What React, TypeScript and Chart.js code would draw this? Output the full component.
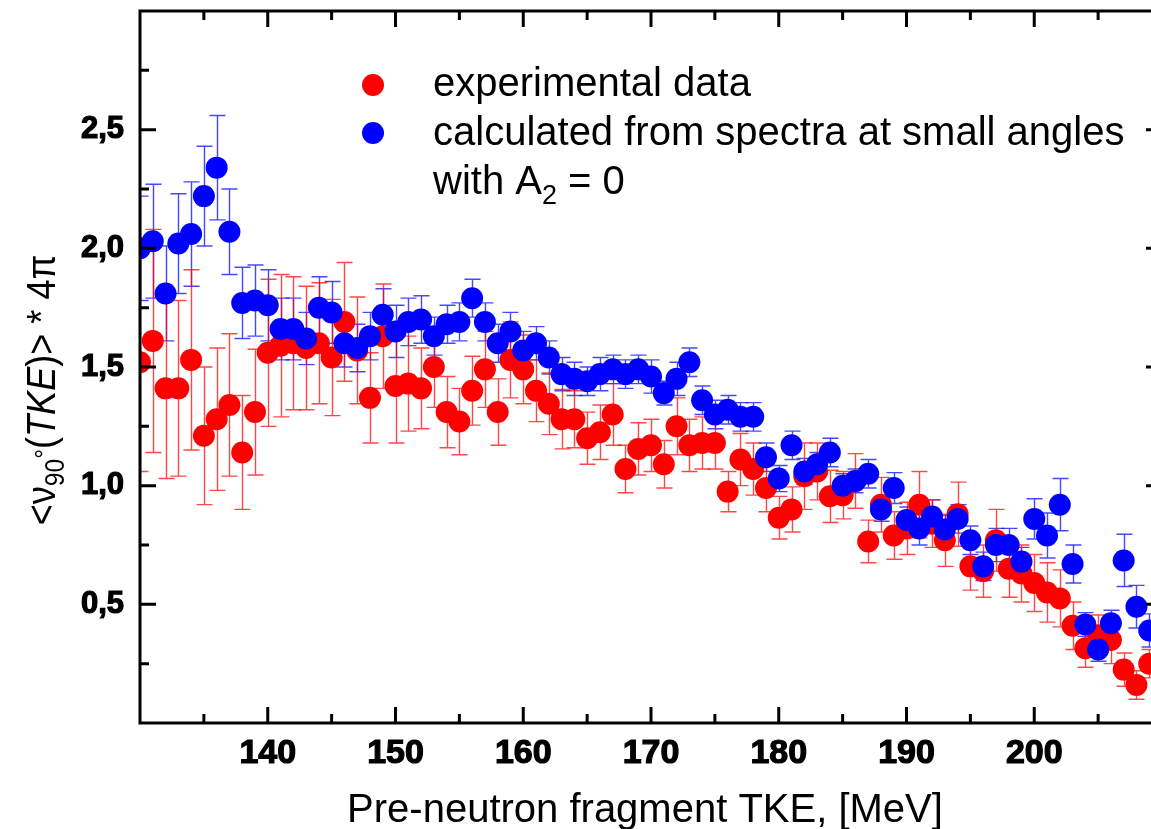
import React, { useEffect, useRef } from "react";
import { Chart, registerables } from "chart.js";

Chart.register(...registerables);

// ---------------- data ----------------
const tke = [
  130, 131, 132, 133, 134, 135, 136, 137, 138, 139,
  140, 141, 142, 143, 144, 145, 146, 147, 148, 149,
  150, 151, 152, 153, 154, 155, 156, 157, 158, 159,
  160, 161, 162, 163, 164, 165, 166, 167, 168, 169,
  170, 171, 172, 173, 174, 175, 176, 177, 178, 179,
  180, 181, 182, 183, 184, 185, 186, 187, 188, 189,
  190, 191, 192, 193, 194, 195, 196, 197, 198, 199,
  200, 201, 202, 203, 204, 205, 206, 207, 208, 209,
];

const experimental = [
  1.52, 1.61, 1.41, 1.41, 1.53, 1.21, 1.28, 1.34, 1.14, 1.31,
  1.56, 1.59, 1.6, 1.58, 1.6, 1.54, 1.69, 1.57, 1.37, 1.63,
  1.42, 1.43, 1.41, 1.5, 1.31, 1.27, 1.4, 1.49, 1.31, 1.53,
  1.49, 1.4, 1.345, 1.28, 1.28, 1.2, 1.225, 1.3, 1.07, 1.155,
  1.17, 1.09, 1.25, 1.17, 1.18, 1.18, 0.975, 1.11, 1.07, 0.99,
  0.865, 0.9, 1.04, 1.06, 0.955, 0.96, 1.02, 0.765, 0.92, 0.79,
  0.82, 0.92, 0.84, 0.77, 0.88, 0.66, 0.64, 0.77, 0.65, 0.63,
  0.59, 0.55, 0.525, 0.41, 0.315, 0.37, 0.35, 0.225, 0.16, 0.25,
];

const experimentalErr = [
  0.46, 0.47, 0.38, 0.37, 0.38, 0.29, 0.3, 0.3, 0.24, 0.265,
  0.31, 0.3, 0.28, 0.26, 0.255, 0.245, 0.25, 0.225, 0.19, 0.22,
  0.24, 0.2, 0.17, 0.17, 0.15, 0.14, 0.145, 0.16, 0.14, 0.16,
  0.145, 0.13, 0.13, 0.125, 0.12, 0.11, 0.115, 0.13, 0.1, 0.11,
  0.11, 0.1, 0.12, 0.11, 0.11, 0.11, 0.085, 0.11, 0.11, 0.1,
  0.09, 0.095, 0.14, 0.12, 0.11, 0.1, 0.115, 0.09, 0.115, 0.1,
  0.11, 0.14, 0.1, 0.11, 0.135, 0.1, 0.11, 0.13, 0.12, 0.12,
  0.12, 0.125, 0.12, 0.1, 0.08, 0.085, 0.1, 0.07, 0.06, 0.06,
];

const calculated = [
  2.0, 2.03, 1.81, 2.02, 2.06, 2.22, 2.34, 2.07, 1.77, 1.78,
  1.76, 1.66, 1.66, 1.62, 1.75, 1.73, 1.6, 1.58, 1.63, 1.72,
  1.65, 1.69, 1.7, 1.63, 1.68, 1.69, 1.79, 1.69, 1.6, 1.65,
  1.57, 1.6, 1.54, 1.47, 1.45, 1.44, 1.47, 1.49, 1.47, 1.49,
  1.46, 1.39, 1.45, 1.52, 1.36, 1.3, 1.32, 1.29, 1.29, 1.12,
  1.03, 1.17, 1.06, 1.09, 1.14, 1.0, 1.02, 1.05, 0.9, 0.99,
  0.855, 0.82, 0.87, 0.815, 0.86, 0.77, 0.66, 0.75, 0.75, 0.68,
  0.86, 0.79, 0.92, 0.67, 0.415, 0.31, 0.42, 0.685, 0.49, 0.39,
];

const calculatedErr = [
  0.22, 0.24, 0.2, 0.21, 0.22, 0.21, 0.22, 0.18, 0.15, 0.15,
  0.15, 0.13, 0.13, 0.11, 0.13, 0.13, 0.1, 0.1, 0.1, 0.11,
  0.11, 0.1, 0.1, 0.08, 0.08, 0.08, 0.08, 0.08, 0.08, 0.08,
  0.08, 0.07, 0.07, 0.07, 0.07, 0.06, 0.07, 0.06, 0.06, 0.06,
  0.07, 0.05, 0.07, 0.06, 0.06, 0.06, 0.06, 0.06, 0.06, 0.06,
  0.055, 0.06, 0.055, 0.05, 0.06, 0.05, 0.05, 0.06, 0.05, 0.065,
  0.055, 0.07, 0.07, 0.06, 0.06, 0.06, 0.06, 0.07, 0.07, 0.06,
  0.085, 0.095, 0.11, 0.08, 0.05, 0.05, 0.055, 0.11, 0.09, 0.07,
];

const xTickLabels = [140, 150, 160, 170, 180, 190, 200];
const xMinorTicks = [135, 145, 155, 165, 175, 185, 195, 205];
const yTickLabels = [0.5, 1.0, 1.5, 2.0, 2.5];
const yMinorTicks = [0.25, 0.75, 1.25, 1.75, 2.25, 2.75];

const legendLabels = [
  "experimental data",
  "calculated from spectra at small angles",
];

const FONT = "'Liberation Sans', Arial, Helvetica, sans-serif";
const RED = "#ff0000";
const BLUE = "#0000ff";

type Run = { text: string; size: number; italic?: boolean; dy?: number };

function measureRuns(ctx: CanvasRenderingContext2D, runs: Run[]) {
  let w = 0;
  for (const r of runs) {
    ctx.font = `${r.italic ? "italic " : ""}${r.size}px ${FONT}`;
    w += ctx.measureText(r.text).width;
  }
  return w;
}

function drawRuns(ctx: CanvasRenderingContext2D, runs: Run[], x0: number, y0: number) {
  let x = x0;
  for (const r of runs) {
    ctx.font = `${r.italic ? "italic " : ""}${r.size}px ${FONT}`;
    ctx.fillText(r.text, x, y0 + (r.dy || 0));
    x += ctx.measureText(r.text).width;
  }
}

const errorBarPlugin = {
  id: "errorBars",
  beforeDatasetsDraw(chart: any) {
    const { ctx, chartArea } = chart;
    const xs = chart.scales.x;
    const ys = chart.scales.y;
    ctx.save();
    ctx.beginPath();
    ctx.rect(chartArea.left, chartArea.top, chartArea.right - chartArea.left, chartArea.bottom - chartArea.top);
    ctx.clip();
    ctx.lineWidth = 1.4;
    chart.data.datasets.forEach((ds: any) => {
      ctx.strokeStyle = ds.errorColor;
      ds.data.forEach((p: any, j: number) => {
        const e = ds.errors[j];
        const px = Math.round(xs.getPixelForValue(p.x)) + 0.5;
        const top = ys.getPixelForValue(p.y + e);
        const bot = ys.getPixelForValue(p.y - e);
        ctx.beginPath();
        ctx.moveTo(px, top);
        ctx.lineTo(px, bot);
        ctx.moveTo(px - 8, top);
        ctx.lineTo(px + 8, top);
        ctx.moveTo(px - 8, bot);
        ctx.lineTo(px + 8, bot);
        ctx.stroke();
      });
    });
    ctx.restore();
  },
};

const framePlugin = {
  id: "frame",
  afterDraw(chart: any) {
    const { ctx, chartArea } = chart;
    const xs = chart.scales.x;
    const ys = chart.scales.y;
    const { left, right, top, bottom } = chartArea;
    ctx.save();
    ctx.strokeStyle = "#000";
    ctx.lineWidth = 3;
    ctx.strokeRect(left, top, right - left, bottom - top);

    const MAJ = 16;
    const MIN = 9;
    ctx.lineWidth = 3;
    ctx.beginPath();
    const xt = (v: number, len: number) => {
      const px = xs.getPixelForValue(v);
      ctx.moveTo(px, bottom);
      ctx.lineTo(px, bottom - len);
      ctx.moveTo(px, top);
      ctx.lineTo(px, top + len);
    };
    const yt = (v: number, len: number) => {
      const py = ys.getPixelForValue(v);
      ctx.moveTo(left, py);
      ctx.lineTo(left + len, py);
      ctx.moveTo(right, py);
      ctx.lineTo(right - len, py);
    };
    xTickLabels.forEach((v) => xt(v, MAJ));
    xMinorTicks.forEach((v) => xt(v, MIN));
    yTickLabels.forEach((v) => yt(v, MAJ));
    yMinorTicks.forEach((v) => yt(v, MIN));
    ctx.stroke();

    // legend
    ctx.fillStyle = RED;
    ctx.beginPath();
    ctx.arc(373, 85, 11, 0, Math.PI * 2);
    ctx.fill();
    ctx.fillStyle = BLUE;
    ctx.beginPath();
    ctx.arc(373, 133, 11, 0, Math.PI * 2);
    ctx.fill();

    ctx.fillStyle = "#000";
    ctx.textAlign = "left";
    ctx.textBaseline = "alphabetic";
    ctx.font = `40px ${FONT}`;
    ctx.fillText(legendLabels[0], 433, 96);
    ctx.fillText(legendLabels[1], 433, 145);
    drawRuns(
      ctx,
      [
        { text: "with A", size: 40 },
        { text: "2", size: 27, dy: 10 },
        { text: " = 0", size: 40 },
      ],
      433,
      194
    );

    // x title
    const xTitle: Run[] = [{ text: "Pre-neutron fragment TKE, [MeV]", size: 40 }];
    const wx = measureRuns(ctx, xTitle);
    drawRuns(ctx, xTitle, (left + 1150) / 2 - wx / 2, 822);

    // y title (rotated, slightly condensed)
    const yTitle: Run[] = [
      { text: "<\u03BD", size: 41 },
      { text: "90", size: 28, dy: 9 },
      { text: "\u00B0", size: 28, dy: -1 },
      { text: "(", size: 41 },
      { text: "TKE", size: 41, italic: true },
      { text: ")> * 4\u03C0", size: 41 },
    ];
    const wy = measureRuns(ctx, yTitle);
    ctx.translate(55, 390);
    ctx.rotate(-Math.PI / 2);
    ctx.scale(0.88, 1);
    drawRuns(ctx, yTitle, -wy / 2, 0);
    ctx.restore();
  },
};

export default function App() {
  const ref = useRef<HTMLCanvasElement | null>(null);

  useEffect(() => {
    document.body.style.margin = "0";
    const canvas = ref.current;
    if (!canvas) return;
    const chart = new Chart(canvas, {
      type: "scatter",
      data: {
        datasets: [
          {
            label: "calculated from spectra at small angles",
            data: tke.map((x, i) => ({ x, y: calculated[i] })),
            errors: calculatedErr,
            errorColor: "rgba(0,0,255,0.72)",
            backgroundColor: BLUE,
            borderWidth: 0,
            pointRadius: 11,
            pointHoverRadius: 11,
            order: 0,
            clip: 0,
          } as any,
          {
            label: "experimental data",
            data: tke.map((x, i) => ({ x, y: experimental[i] })),
            errors: experimentalErr,
            errorColor: "rgba(255,0,0,0.72)",
            backgroundColor: RED,
            borderWidth: 0,
            pointRadius: 11,
            pointHoverRadius: 11,
            order: 1,
            clip: 0,
          } as any,
        ],
      },
      options: {
        animation: false,
        responsive: false,
        events: [],
        layout: { padding: { top: 7, right: 13, left: 0, bottom: 0 } },
        plugins: { legend: { display: false }, tooltip: { enabled: false } },
        scales: {
          x: {
            type: "linear",
            min: 130,
            max: 210,
            grid: { display: false, drawTicks: false },
            border: { display: false },
            afterBuildTicks: (s: any) => {
              s.ticks = xTickLabels.map((v) => ({ value: v }));
            },
            afterFit: (s: any) => {
              s.height = 106;
              s.paddingLeft = 0;
              s.paddingRight = 0;
            },
            ticks: {
              autoSkip: false,
              maxRotation: 0,
              padding: 10,
              color: "#000",
              textStrokeColor: "#000",
              textStrokeWidth: 1.2,
              font: { family: FONT, size: 34, weight: "bold" },
              callback: (v: any) => String(v),
            },
          },
          y: {
            type: "linear",
            min: 0,
            max: 3,
            grid: { display: false, drawTicks: false },
            border: { display: false },
            afterBuildTicks: (s: any) => {
              s.ticks = yTickLabels.map((v) => ({ value: v }));
            },
            afterFit: (s: any) => {
              s.width = 140;
              s.paddingTop = 0;
              s.paddingBottom = 0;
            },
            ticks: {
              autoSkip: false,
              padding: 16,
              color: "#000",
              textStrokeColor: "#000",
              textStrokeWidth: 1.2,
              font: { family: FONT, size: 31, weight: "bold" },
              callback: (v: any) => Number(v).toFixed(1).replace(".", ","),
            },
          },
        },
      },
      plugins: [errorBarPlugin, framePlugin],
    } as any);
    return () => chart.destroy();
  }, []);

  return (
    <div style={{ width: 1151, height: 829, overflow: "hidden", position: "relative", background: "#fff" }}>
      <canvas ref={ref} width={1175} height={829} style={{ display: "block", width: 1175, height: 829 }} />
    </div>
  );
}
